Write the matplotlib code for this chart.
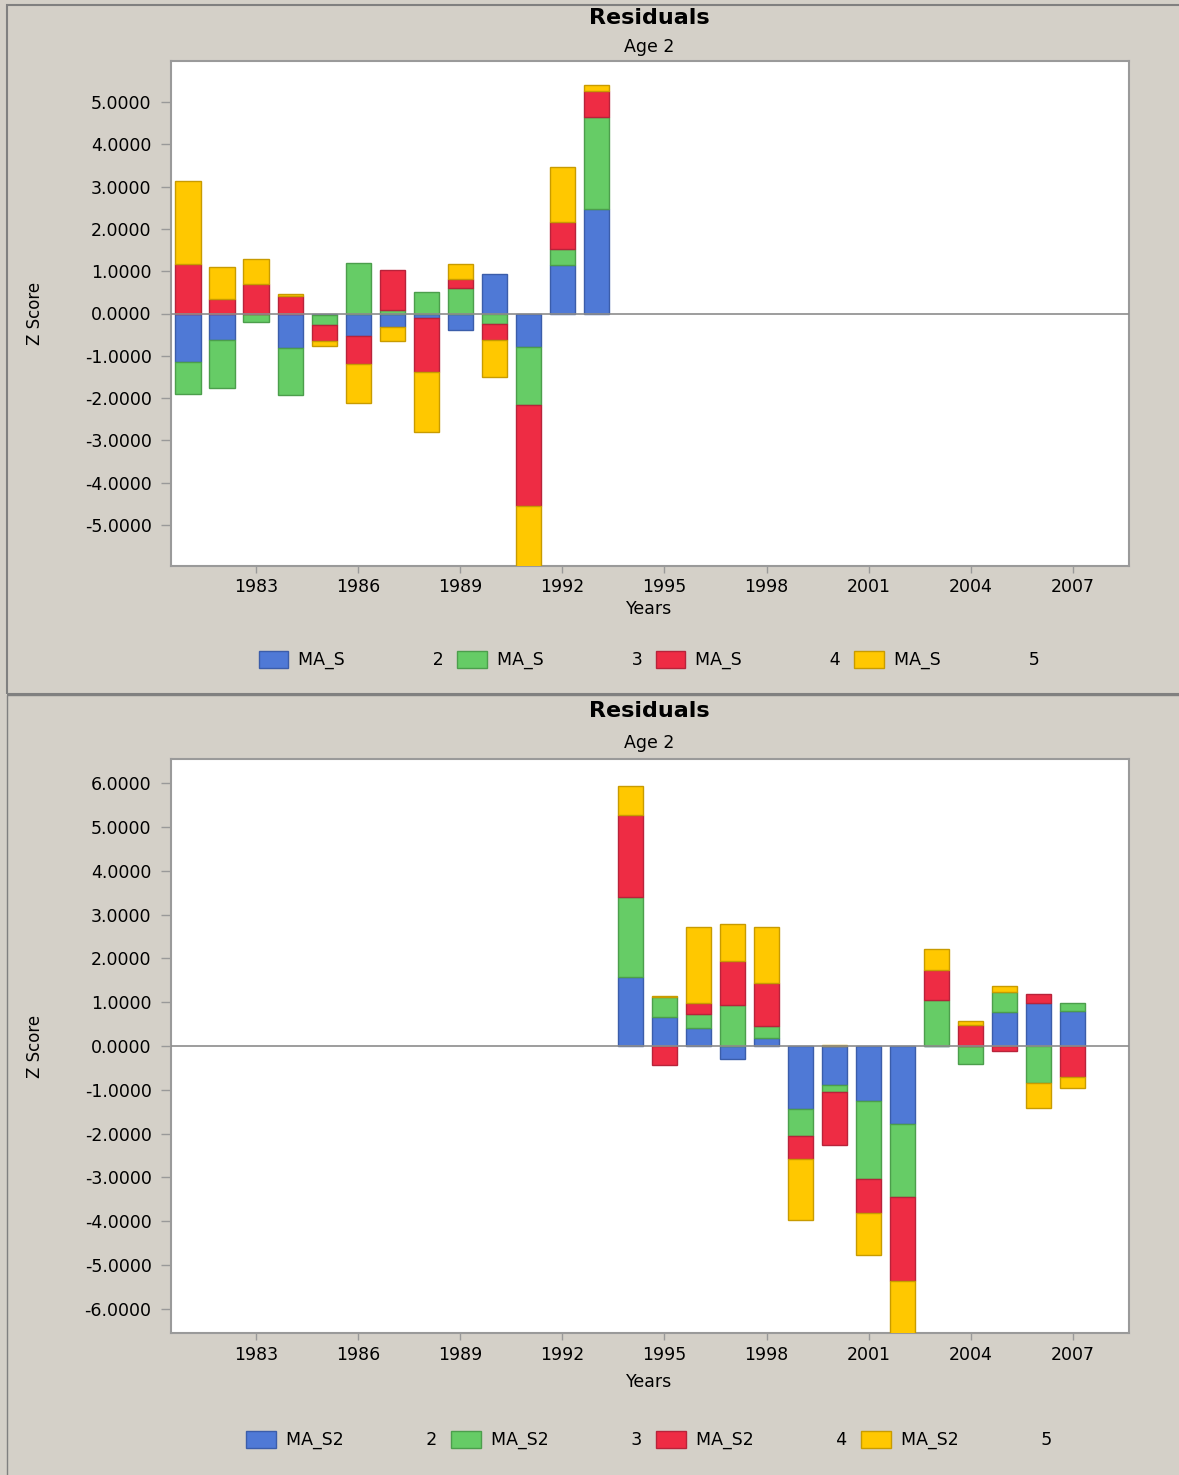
import numpy as np
import matplotlib
matplotlib.use("Agg")
import matplotlib.pyplot as plt
from matplotlib.patches import Rectangle
from matplotlib.ticker import FormatStrFormatter

W, H = 1179, 1475
BG = "#D4D0C8"
COLORS = ["#4F79D6", "#66CC66", "#EE2C44", "#FFC800"]
EDGES = ["#3B5DAA", "#4C9E4C", "#B8233A", "#C89B00"]

# top panel: MA_S, ages 2..5, years 1981-1993
years_top = list(range(1981, 1994))
top_age2 = [-1.14, -0.63, 0.00, -0.82, -0.03, -0.53, -0.31, -0.11, -0.38, 0.93, -0.79, 1.15, 2.48]
top_age3 = [-0.77, -1.13, -0.20, -1.10, -0.24, 1.19, 0.09, 0.52, 0.60, -0.24, -1.37, 0.38, 2.17]
top_age4 = [1.17, 0.35, 0.69, 0.41, -0.39, -0.67, 0.95, -1.28, 0.22, -0.38, -2.40, 0.64, 0.61]
top_age5 = [1.96, 0.75, 0.60, 0.05, -0.10, -0.91, -0.33, -1.41, 0.34, -0.87, -2.00, 1.29, 0.15]

# bottom panel: MA_S2, years 1994-2007
years_bot = list(range(1994, 2008))
bot_age2 = [1.57, 0.66, 0.41, -0.29, 0.18, -1.44, -0.88, -1.25, -1.79, 0.00, 0.00, 0.77, 0.97, 0.79]
bot_age3 = [1.82, 0.46, 0.31, 0.94, 0.27, -0.62, -0.17, -1.79, -1.65, 1.04, -0.42, 0.46, -0.85, 0.19]
bot_age4 = [1.89, -0.44, 0.25, 1.01, 0.98, -0.51, -1.21, -0.77, -1.92, 0.70, 0.49, -0.12, 0.22, -0.70]
bot_age5 = [0.66, 0.03, 1.74, 0.83, 1.28, -1.41, 0.03, -0.96, -1.50, 0.47, 0.08, 0.15, -0.57, -0.25]

x_ticks = list(range(1983, 2008, 3))


def px_axes(fig, left, top, right, bottom):
    return fig.add_axes([left / W, 1 - bottom / H, (right - left) / W, (bottom - top) / H])


def draw_panel(fig, ax, years, series, name, ylim, yticks, y_title, y_sub, y_years, y_leg, leg_spaces, colsp):
    ax.set_facecolor("white")
    pos = np.zeros(len(years))
    neg = np.zeros(len(years))
    handles = []
    # positives stack upward, negatives downward, in series order
    for vals, c, e in zip(series, COLORS, EDGES):
        v = np.array(vals)
        base = np.where(v >= 0, pos, neg)
        b = ax.bar(years, v, bottom=base, width=0.74, color=c, edgecolor=e, linewidth=1.0, zorder=3)
        handles.append(b)
        pos = pos + np.where(v >= 0, v, 0)
        neg = neg + np.where(v < 0, v, 0)
    ax.axhline(0, color="#8C8C8C", linewidth=1.2, zorder=4)
    ax.set_xlim(1980.5, 2008.65)
    ax.set_ylim(*ylim)
    ax.set_xticks(x_ticks)
    ax.set_yticks(yticks)
    ax.yaxis.set_major_formatter(FormatStrFormatter("%.4f"))
    ax.tick_params(axis="y", length=7, width=1, color="#999999", pad=7, labelsize=12.5)
    ax.tick_params(axis="x", length=5, width=1, color="#999999", pad=4, labelsize=12.5)
    for s in ax.spines.values():
        s.set_color("#9A9A9A")
        s.set_linewidth(1.5)

    ax.set_xlabel("Years", fontsize=12.5)
    ax.xaxis.set_label_coords(649 / W, 1 - y_years / H, transform=fig.transFigure)
    ax.xaxis.label.set_va("center")

    y0, y1 = ax.get_position().y0, ax.get_position().y1
    fig.text(35 / W, (y0 + y1) / 2, "Z Score", rotation=90, ha="center", va="center",
             fontsize=12, family=["Liberation Sans Narrow", "DejaVu Sans"])
    fig.text(649 / W, 1 - y_title / H, "Residuals", ha="center", va="center",
             fontsize=16, fontweight="bold")
    fig.text(649 / W, 1 - y_sub / H, "Age 2", ha="center", va="center", fontsize=12.5)

    labels = [name + " " * leg_spaces + str(a) for a in range(2, 6)]
    fig.legend(handles, labels, loc="center", bbox_to_anchor=(649 / W, 1 - y_leg / H),
               ncol=4, frameon=False, fontsize=12.5, handlelength=1.72, handleheight=1.15,
               handletextpad=0.57, columnspacing=colsp, borderpad=0)


fig = plt.figure(figsize=(W / 100, H / 100), dpi=100)
fig.patch.set_facecolor(BG)

# panel borders
fig.patches.append(Rectangle((7 / W, 1 - 694 / H), 1.2, (694 - 5) / H, transform=fig.transFigure,
                             facecolor="none", edgecolor="#808080", linewidth=1.5))
fig.patches.append(Rectangle((7 / W, -0.1), 1.2, 0.1 + 1 - 695 / H, transform=fig.transFigure,
                             facecolor="none", edgecolor="#808080", linewidth=1.0))

ax1 = px_axes(fig, 171, 61, 1129, 566)
draw_panel(fig, ax1, years_top, [top_age2, top_age3, top_age4, top_age5], "MA_S",
           (-5.97, 5.97), list(range(-5, 6)), 18, 47, 609, 660, 16, 0.75)

ax2 = px_axes(fig, 171, 759, 1129, 1333)
draw_panel(fig, ax2, years_bot, [bot_age2, bot_age3, bot_age4, bot_age5], "MA_S2",
           (-6.55, 6.55), list(range(-6, 7)), 711, 743, 1382, 1440, 15, 0.8)

fig.savefig("out.png", dpi=100, facecolor=BG)
